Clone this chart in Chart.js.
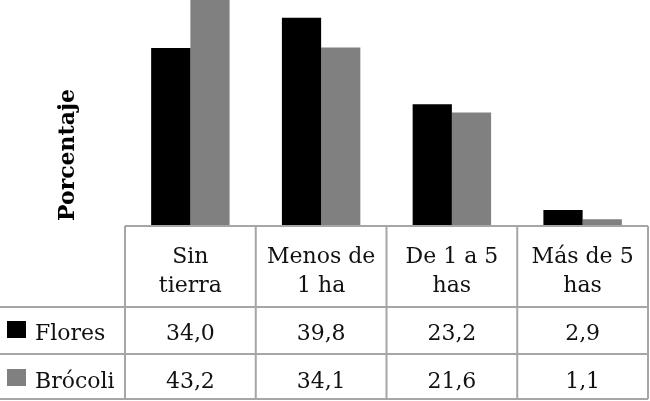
<!DOCTYPE html>
<html>
<head>
<meta charset="utf-8">
<script src="https://cdn.jsdelivr.net/npm/chart.js@4/dist/chart.umd.min.js"></script>
<style>
  body { margin: 0; background: #fff; }
  #wrap { width: 650px; height: 401px; }
</style>
</head>
<body>
<div id="wrap"><canvas id="myChart" width="650" height="401"></canvas></div>
<script>
// datos del grafico
const categories = [["Sin", "tierra"], ["Menos de", "1 ha"], ["De 1 a 5", "has"], ["Más de 5", "has"]];
const seriesNames = ["Flores", "Brócoli"];
const flores = [34.0, 39.8, 23.2, 2.9];
const brocoli = [43.2, 34.1, 21.6, 1.1];
const yTitle = "Porcentaje";

const colors = ["#000000", "#808080"];
const lineColor = "#a6a6a6";
const font = "22px 'DejaVu Serif'";

const fmt = (v) => v.toFixed(1).replace(".", ",");

// tabla de datos debajo del grafico (como en Excel)
const dataTable = {
  id: "dataTable",
  afterDraw(chart) {
    const { ctx, chartArea, scales } = chart;
    const x = scales.x;
    const top = chartArea.bottom + 1;
    const rowLines = [top + 81, top + 128, top + 173];
    const step = (chartArea.right - chartArea.left) / categories.length;
    const edges = categories.map((c, i) => x.getPixelForValue(i) - step / 2);
    edges.push(chartArea.right);

    ctx.save();
    ctx.strokeStyle = lineColor;
    ctx.lineWidth = 2;
    ctx.beginPath();
    ctx.moveTo(chartArea.left, top);
    ctx.lineTo(chartArea.right, top);
    rowLines.forEach((y) => {
      ctx.moveTo(0, y);
      ctx.lineTo(chartArea.right, y);
    });
    edges.forEach((ex) => {
      ctx.moveTo(ex, top);
      ctx.lineTo(ex, rowLines[2]);
    });
    ctx.stroke();

    ctx.fillStyle = "#111";
    ctx.font = font;
    ctx.textAlign = "center";
    ctx.textBaseline = "alphabetic";
    categories.forEach((lines, i) => {
      const cx = x.getPixelForValue(i);
      lines.forEach((l, j) => ctx.fillText(l, cx, top + 37 + j * 29));
    });

    const series = [flores, brocoli];
    series.forEach((vals, r) => {
      const base = top + 114 + r * 48;
      vals.forEach((v, i) => {
        ctx.fillStyle = "#111";
        ctx.textAlign = "center";
        ctx.fillText(fmt(v), x.getPixelForValue(i), base);
      });
      // leyenda
      ctx.fillStyle = colors[r];
      ctx.fillRect(7, base - 19, 19, 17);
      ctx.fillStyle = "#111";
      ctx.textAlign = "left";
      ctx.fillText(seriesNames[r], 35, base);
    });

    // titulo del eje y
    ctx.translate(68, 155);
    ctx.rotate(-Math.PI / 2);
    ctx.font = "bold 22px 'DejaVu Serif'";
    ctx.textAlign = "center";
    ctx.textBaseline = "middle";
    ctx.fillStyle = "#000";
    ctx.fillText(yTitle, 0, 0);
    ctx.restore();
  },
};

new Chart(document.getElementById("myChart"), {
  type: "bar",
  data: {
    labels: categories,
    datasets: [
      { label: seriesNames[0], data: flores, backgroundColor: colors[0], borderWidth: 0 },
      { label: seriesNames[1], data: brocoli, backgroundColor: colors[1], borderWidth: 0 },
    ],
  },
  options: {
    responsive: false,
    animation: false,
    devicePixelRatio: 1,
    layout: { padding: { left: 0, top: 0, right: 2, bottom: 176 } },
    datasets: { bar: { categoryPercentage: 0.6, barPercentage: 1.0 } },
    scales: {
      x: { display: false },
      y: {
        display: true,
        min: 0,
        max: Math.max(...flores, ...brocoli),
        grid: { display: false },
        border: { display: false },
        ticks: { display: false },
        afterFit(scale) { scale.width = 125; },
      },
    },
    plugins: {
      legend: { display: false },
      tooltip: { enabled: false },
    },
  },
  plugins: [dataTable],
});
</script>
</body>
</html>
